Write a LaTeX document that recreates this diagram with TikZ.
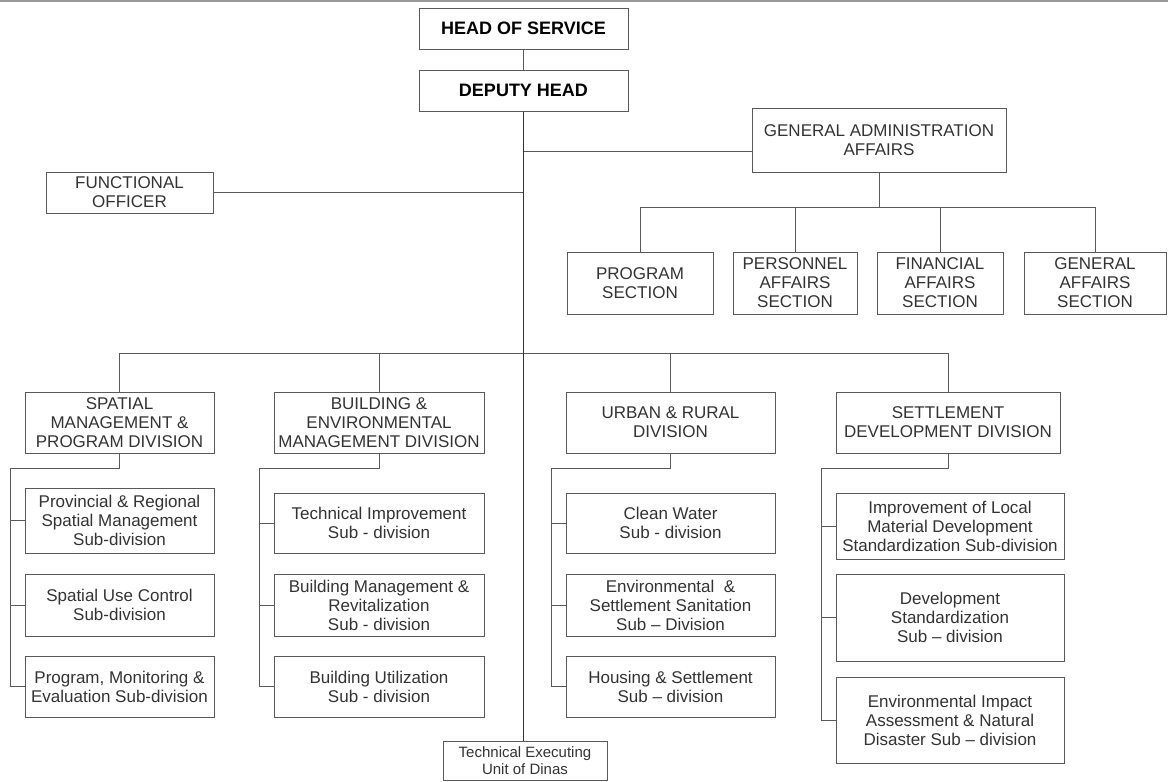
\documentclass[tikz,border=0pt]{standalone}
\usepackage{fontspec}
\setmainfont{Liberation Sans}
\begin{document}
\begin{tikzpicture}[x=1pt,y=-1pt]
  \tikzset{box/.style={draw=black!65,line width=1pt,align=center,inner sep=0pt,text=black!80,font=\fontsize{17}{19}\selectfont},
           topbox/.style={box,text=black,font=\fontsize{18}{20}\selectfont\bfseries},
           smallbox/.style={box,font=\fontsize{15}{17}\selectfont},
           link/.style={draw=black!65,line width=1pt},
           trunk/.style={draw=black!80,line width=1.6pt}}
  \useasboundingbox (0,0) rectangle (1168,782);
  \draw[black!40,line width=2pt] (0,1) -- (1168,1);
  \node[topbox,minimum width=209pt,minimum height=41pt] (head) at (523.5,28.5) {HEAD OF SERVICE};
  \node[topbox,minimum width=209pt,minimum height=41pt] (deputy) at (523.5,90.5) {DEPUTY HEAD};
  \node[box,minimum width=254pt,minimum height=64pt] (ga) at (879,140) {GENERAL ADMINISTRATION\\AFFAIRS};
  \node[box,minimum width=167pt,minimum height=41pt] (func) at (129.5,192.5) {FUNCTIONAL\\OFFICER};
  \node[box,minimum width=146pt,minimum height=62pt] (prog) at (640,283) {PROGRAM\\SECTION};
  \node[box,minimum width=124pt,minimum height=62pt] (pers) at (795,283) {PERSONNEL\\AFFAIRS\\SECTION};
  \node[box,minimum width=126pt,minimum height=62pt] (fin) at (940,283) {FINANCIAL\\AFFAIRS\\SECTION};
  \node[box,minimum width=142pt,minimum height=62pt] (gen) at (1095,283) {GENERAL\\AFFAIRS\\SECTION};
  \node[box,minimum width=189pt,minimum height=61pt] (spatial) at (119.5,422.5) {SPATIAL\\MANAGEMENT \&\\PROGRAM DIVISION};
  \node[box,minimum width=210pt,minimum height=61pt] (building) at (379,422.5) {BUILDING \&\\ENVIRONMENTAL\\MANAGEMENT DIVISION};
  \node[box,minimum width=209pt,minimum height=61pt] (urban) at (670.5,422.5) {URBAN \& RURAL\\DIVISION};
  \node[box,minimum width=224pt,minimum height=61pt] (settle) at (948,422.5) {SETTLEMENT\\DEVELOPMENT DIVISION};
  \node[box,minimum width=189pt,minimum height=65pt] (prov) at (119.5,520.5) {Provincial \& Regional\\Spatial Management\\Sub-division};
  \node[box,minimum width=189pt,minimum height=62pt] (use) at (119.5,605) {Spatial Use Control\\Sub-division};
  \node[box,minimum width=189pt,minimum height=61pt] (pme) at (119.5,686.5) {Program, Monitoring \&\\Evaluation Sub-division};
  \node[box,minimum width=210pt,minimum height=60pt] (techimp) at (379,523) {Technical Improvement\\Sub - division};
  \node[box,minimum width=210pt,minimum height=62pt] (bman) at (379,605) {Building Management \&\\Revitalization\\Sub - division};
  \node[box,minimum width=210pt,minimum height=61pt] (butil) at (379,686.5) {Building Utilization\\Sub - division};
  \node[box,minimum width=209pt,minimum height=60pt] (water) at (670.5,523) {Clean Water\\Sub - division};
  \node[box,minimum width=209pt,minimum height=62pt] (sanit) at (670.5,605) {Environmental\ \ \&\\Settlement Sanitation\\Sub -- Division};
  \node[box,minimum width=209pt,minimum height=61pt] (housing) at (670.5,686.5) {Housing \& Settlement\\Sub -- division};
  \node[box,minimum width=228pt,minimum height=66pt] (localmat) at (950,526) {Improvement of Local\\Material Development\\Standardization Sub-division};
  \node[box,minimum width=228pt,minimum height=87pt] (devstd) at (950,617.5) {Development\\Standardization\\Sub -- division};
  \node[box,minimum width=228pt,minimum height=86pt] (impact) at (950,720) {Environmental Impact\\Assessment \& Natural\\Disaster Sub -- division};
  \node[smallbox,minimum width=164pt,minimum height=39pt] (dinas) at (525,760.5) {Technical Executing\\Unit of Dinas};
  \coordinate (gajoin) at (523.5,151);
  \coordinate (divbus) at (523.5,353);
  \draw[link] (head) -- (deputy);
  \draw[link] (gajoin) -- (gajoin -| ga.west);
  \draw[link] (func.east) -- (func.east -| deputy.south);
  \foreach \s in {prog,pers,fin,gen}
    \draw[link] (ga.south) -- ++(0,35) -| (\s.north);
  \foreach \d in {spatial,building,urban,settle}
    \draw[link] (divbus) -| (\d.north);
  \foreach \d/\s in {spatial/prov,spatial/use,spatial/pme,building/techimp,building/bman,building/butil,urban/water,urban/sanit,urban/housing,settle/localmat,settle/devstd,settle/impact}
    \draw[link] (\d.south) -- ++(0,15) -| ([xshift=-14pt]\s.west) -- (\s.west);
  \draw[trunk] (deputy.south) -- (deputy.south |- dinas.north);
\end{tikzpicture}
\end{document}
